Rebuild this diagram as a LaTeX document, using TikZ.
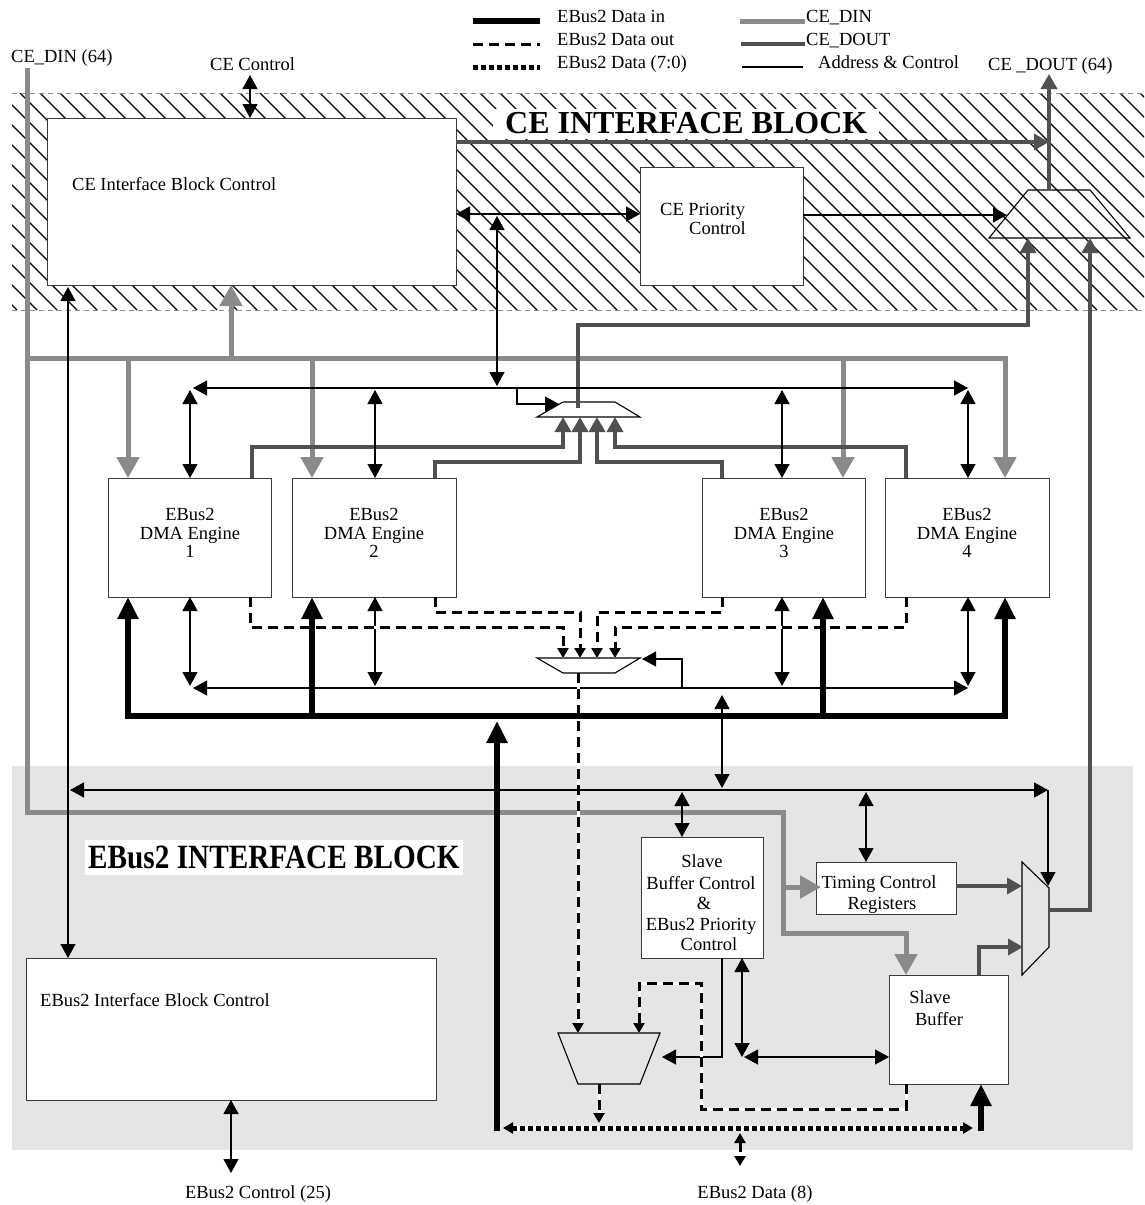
\documentclass[tikz,border=0pt]{standalone}
\usepackage{fontspec}
\usepackage{graphicx}
\setmainfont{Liberation Serif}
\usetikzlibrary{arrows.meta}
\definecolor{dingray}{HTML}{8A8A8A}
\definecolor{doutgray}{HTML}{505050}
\definecolor{blockbg}{HTML}{E5E5E5}
\definecolor{edgegray}{HTML}{3A3A3A}
\definecolor{hatchedge}{HTML}{8C8C8C}

\tikzset{
  adrtip/.tip={Triangle[width=15pt,length=14pt]},
  dintip/.tip={Triangle[width=22pt,length=21pt]},
  douttip/.tip={Triangle[width=16pt,length=15pt]},
  bigtip/.tip={Triangle[width=20pt,length=22pt]},
  smalltip/.tip={Triangle[width=11pt,length=10pt]},
  addr/.style={draw=black, line width=1.2pt},
  din/.style={draw=dingray, line width=5pt, line join=miter},
  dout/.style={draw=doutgray, line width=3.5pt, line join=miter},
  datain/.style={draw=black, line width=5.5pt, line join=miter},
  dataout/.style={draw=black, line width=3pt, dash pattern=on 10pt off 6pt,
    preaction={draw=white, solid, line width=3pt}},
  databyte/.style={draw=black, line width=5pt, dash pattern=on 5pt off 3pt,
    preaction={draw=white, solid, line width=5pt}},
  box/.style={draw=edgegray, line width=1.2pt, fill=white, inner sep=0pt, anchor=north west},
  mux/.style={draw=black, line width=1.1pt, line join=miter},
  lbl/.style={inner sep=0pt},
  blocktitle/.style={fill=white, inner ysep=0pt, font=\fontsize{32}{34}\selectfont\bfseries},
  bordergray/.style={draw=hatchedge, line width=0.9pt, dash pattern=on 5pt off 4pt},
}

\begin{document}
\begin{tikzpicture}[x=1pt, y=-1pt, font=\fontsize{18.5}{20}\selectfont]
\useasboundingbox (0,0) rectangle (1144,1205);

% ---------- block backgrounds ----------
\fill[blockbg] (12,766) rectangle (1133,1150);
\begin{scope}
  \clip (12,93) rectangle (1144,310);
  \foreach \k in {0,...,70}
    \draw[line width=1.3pt] ({\k*20-220},93) -- ++(217,217);
\end{scope}
\draw[bordergray] (12,93) -- (1144,93);
\draw[bordergray] (12,310) -- (1144,310);

\node[blocktitle, anchor=base west, text height=24pt, text depth=6pt, inner xsep=12pt]
  (cetitle) at (493,133) {CE INTERFACE BLOCK};
\node[blocktitle, anchor=base west, text height=28pt, text depth=7pt, inner xsep=3pt,
  font=\fontsize{34}{36}\selectfont\bfseries]
  (ebtitle) at (85,868) {\scalebox{0.86}[1]{EBus2 INTERFACE BLOCK}};

% ---------- legend ----------
\coordinate (lgA1) at (473,21); \coordinate (lgA2) at (540,21);
\coordinate (lgB1) at (473,44); \coordinate (lgB2) at (540,44);
\coordinate (lgC1) at (473,67); \coordinate (lgC2) at (540,67);
\coordinate (lgD1) at (740,21); \coordinate (lgD2) at (805,21);
\coordinate (lgE1) at (741,44); \coordinate (lgE2) at (805,44);
\coordinate (lgF1) at (742,67); \coordinate (lgF2) at (803,67);
\draw[datain] (lgA1) -- (lgA2);
\draw[dataout] (lgB1) -- (lgB2);
\draw[databyte] (lgC1) -- (lgC2);
\draw[din] (lgD1) -- (lgD2);
\draw[dout] (lgE1) -- (lgE2);
\draw[addr] (lgF1) -- (lgF2);
\node[lbl, anchor=base west] (lgAt) at (557,22) {EBus2 Data in};
\node[lbl, anchor=base west] (lgBt) at (557,45) {EBus2 Data out};
\node[lbl, anchor=base west] (lgCt) at (557,68) {EBus2 Data (7:0)};
\node[lbl, anchor=base west] (lgDt) at (806,22) {CE\_DIN};
\node[lbl, anchor=base west] (lgEt) at (806,45) {CE\_DOUT};
\node[lbl, anchor=base west] (lgFt) at (818,68) {Address \& Control};

% ---------- outside labels ----------
\node[lbl, anchor=base west] (cedinlbl) at (11,62) {CE\_DIN (64)};
\node[lbl, anchor=base west] (cectllbl) at (210,70) {CE Control};
\node[lbl, anchor=base west] (cedoutlbl) at (988,70) {CE \_DOUT (64)};
\node[lbl, anchor=base] (ebctllbl) at (258,1198) {EBus2 Control (25)};
\node[lbl, anchor=base] (ebdatalbl) at (755,1198) {EBus2 Data (8)};

% ---------- boxes ----------
\node[box, minimum width=409pt, minimum height=167pt] (ceibc) at (47,118) {};
\node[box, minimum width=163pt, minimum height=118pt] (cepc) at (640,167) {};
\node[box, minimum width=163pt, minimum height=119pt] (dma1) at (108,478) {};
\node[box, minimum width=164pt, minimum height=119pt] (dma2) at (292,478) {};
\node[box, minimum width=163pt, minimum height=119pt] (dma3) at (702,478) {};
\node[box, minimum width=164pt, minimum height=119pt] (dma4) at (885,478) {};
\node[box, minimum width=122pt, minimum height=121pt] (sbc) at (641,837) {};
\node[box, minimum width=140pt, minimum height=52pt] (tcr) at (816,862) {};
\node[box, minimum width=119pt, minimum height=109pt] (sbuf) at (889,975) {};
\node[box, minimum width=410pt, minimum height=142pt] (ebibc) at (26,958) {};

\node[lbl, anchor=base west] (ceibct) at (72,190) {CE Interface Block Control};
\node[lbl, anchor=base west] (cepct1) at (660,215) {CE Priority};
\node[lbl, anchor=base west] (cepct2) at (689,234) {Control};
\foreach \n/\x/\d in {1/190/1, 2/374/2, 3/784/3, 4/967/4} {
  \node[lbl, anchor=base] (dmaA\n) at (\x,520) {EBus2};
  \node[lbl, anchor=base] (dmaB\n) at (\x,539) {DMA Engine};
  \node[lbl, anchor=base] (dmaC\n) at (\x,557) {\d};
}
\node[lbl, anchor=base] (sbct1) at (702,867) {Slave};
\node[lbl, anchor=base] (sbct2) at (701,889) {Buffer Control};
\node[lbl, anchor=base] (sbct3) at (704,909) {\&};
\node[lbl, anchor=base] (sbct4) at (701,930) {EBus2 Priority};
\node[lbl, anchor=base] (sbct5) at (709,950) {Control};
\node[lbl, anchor=base] (tcrt1) at (879,888) {Timing Control};
\node[lbl, anchor=base] (tcrt2) at (882,909) {Registers};
\node[lbl, anchor=base] (sbuft1) at (930,1003) {Slave};
\node[lbl, anchor=base] (sbuft2) at (939,1025) {Buffer};
\node[lbl, anchor=base west] (ebibct) at (40,1006) {EBus2 Interface Block Control};

% ---------- multiplexers ----------
\draw[mux] (1028,190) -- (1090,190) -- (1130,238) -- (989,238) -- cycle;
\draw[mux] (563,402) -- (615,402) -- (640,417) -- (537,417) -- cycle;
\draw[mux] (537,658) -- (640,658) -- (615,673) -- (563,673) -- cycle;
\draw[mux] (558,1033) -- (660,1033) -- (640,1084) -- (578,1084) -- cycle;
\draw[mux] (1022,862) -- (1049,888) -- (1049,947) -- (1022,975) -- cycle;

% ---------- CE_DIN ----------
\coordinate (cedinTop) at (27,68);
\coordinate (dinBusL) at (27,358);
\coordinate (dinTurn) at (27,812);
\coordinate (dinSbA) at (783,812);
\coordinate (dinTcr) at (783,887);
\coordinate (dinSbB) at (783,933);
\coordinate (dinSbC) at (906,933);
\coordinate (sbufIn) at (906,975);
\coordinate (tcrIn) at (821,887);
\coordinate (dinBusR) at (1005,358);
\coordinate (dma4In) at (1005,478);
\coordinate (dinB1) at (128,358);  \coordinate (dma1In) at (128,478);
\coordinate (dinB2) at (312,358);  \coordinate (dma2In) at (312,478);
\coordinate (dinB3) at (843,358);  \coordinate (dma3In) at (843,478);
\coordinate (dinCe) at (231,358);  \coordinate (ceibcIn) at (231,285);
\draw[din,-{dintip}] (cedinTop) -- (dinTurn) -- (dinSbA) -- (dinSbB) -- (dinSbC) -- (sbufIn);
\draw[din,-{dintip}] (dinTcr) -- (tcrIn);
\draw[din,-{dintip}] (dinBusL) -- (dinBusR) -- (dma4In);
\draw[din,-{dintip}] (dinB1) -- (dma1In);
\draw[din,-{dintip}] (dinB2) -- (dma2In);
\draw[din,-{dintip}] (dinB3) -- (dma3In);
\draw[din,-{dintip}] (dinCe) -- (ceibcIn);

% ---------- CE_DOUT ----------
\coordinate (ceibcOut) at (456,142);
\coordinate (doutJoin) at (1049,142);
\coordinate (tmuxOut) at (1049,190);
\coordinate (cedoutTop) at (1049,74);
\coordinate (mmuxOut) at (578,408);
\coordinate (mmuxUp) at (578,325);
\coordinate (tmuxInAr) at (1028,325);
\coordinate (tmuxInA) at (1028,238);
\coordinate (rmuxOut) at (1049,910);
\coordinate (rmuxRt) at (1090,910);
\coordinate (tmuxInB) at (1090,238);
\coordinate (e1o) at (252,478); \coordinate (e1a) at (252,447); \coordinate (e1b) at (563,447); \coordinate (mIn1) at (563,417);
\coordinate (e2o) at (435,478); \coordinate (e2a) at (435,462); \coordinate (e2b) at (580,462); \coordinate (mIn2) at (580,417);
\coordinate (e3o) at (722,478); \coordinate (e3a) at (722,462); \coordinate (e3b) at (597,462); \coordinate (mIn3) at (597,417);
\coordinate (e4o) at (906,478); \coordinate (e4a) at (906,447); \coordinate (e4b) at (615,447); \coordinate (mIn4) at (615,417);
\coordinate (tcrOut) at (956,886); \coordinate (rmuxInA) at (1022,886);
\coordinate (sbufOut) at (979,975); \coordinate (sbufUp) at (979,947); \coordinate (rmuxInB) at (1023,947);
\draw[dout,-{douttip}] (ceibcOut) -- (doutJoin);
\draw[dout,-{douttip}] (tmuxOut) -- (cedoutTop);
\draw[dout,-{douttip}] (mmuxOut) -- (mmuxUp) -- (tmuxInAr) -- (tmuxInA);
\draw[dout,-{douttip}] (rmuxOut) -- (rmuxRt) -- (tmuxInB);
\draw[dout,-{douttip}] (e1o) -- (e1a) -- (e1b) -- (mIn1);
\draw[dout,-{douttip}] (e2o) -- (e2a) -- (e2b) -- (mIn2);
\draw[dout,-{douttip}] (e3o) -- (e3a) -- (e3b) -- (mIn3);
\draw[dout,-{douttip}] (e4o) -- (e4a) -- (e4b) -- (mIn4);
\draw[dout,-{douttip}] (tcrOut) -- (rmuxInA);
\draw[dout,-{douttip}] (sbufOut) -- (sbufUp) -- (rmuxInB);

% ---------- address & control ----------
\coordinate (cectlTop) at (250,75); \coordinate (ceibcCtl) at (250,118);
\coordinate (ceibcPr) at (456,214); \coordinate (cepcW) at (640,214);
\coordinate (prTop) at (497,216); \coordinate (prBot) at (497,386);
\coordinate (cepcE) at (803,215); \coordinate (tmuxSel) at (1007,215);
\coordinate (ubusL) at (193,388); \coordinate (ubusR) at (968,388);
\coordinate (msel0) at (517,388); \coordinate (msel1) at (517,404); \coordinate (mselIn) at (559,404);
\coordinate (lbusL) at (193,688); \coordinate (lbusR) at (968,688);
\coordinate (lsel0) at (682,688); \coordinate (lsel1) at (682,659); \coordinate (lselIn) at (642,659);
\coordinate (linkTop) at (722,695); \coordinate (linkBot) at (722,788);
\coordinate (ebusL) at (70,790); \coordinate (ebusR) at (1048,790); \coordinate (rmuxSel) at (1048,886);
\coordinate (ceibcLow) at (68,287); \coordinate (ebibcTop) at (68,958);
\coordinate (sbcT0) at (682,792); \coordinate (sbcT1) at (682,837);
\coordinate (tcrT0) at (866,792); \coordinate (tcrT1) at (866,862);
\coordinate (sbcB0) at (722,958); \coordinate (sbcB1) at (722,1057); \coordinate (lmuxSel) at (662,1057);
\coordinate (sbcC0) at (742,958); \coordinate (sbcC1) at (742,1057);
\coordinate (sbufL0) at (744,1057); \coordinate (sbufL1) at (889,1057);
\coordinate (ebctl0) at (231,1100); \coordinate (ebctl1) at (231,1173);
\draw[addr,{adrtip}-{adrtip}] (cectlTop) -- (ceibcCtl);
\draw[addr,{adrtip}-{adrtip}] (ceibcPr) -- (cepcW);
\draw[addr,{adrtip}-{adrtip}] (prTop) -- (prBot);
\draw[addr,-{adrtip}] (cepcE) -- (tmuxSel);
\draw[addr,{adrtip}-{adrtip}] (ubusL) -- (ubusR);
\draw[addr,-{adrtip}] (msel0) -- (msel1) -- (mselIn);
\draw[addr,{adrtip}-{adrtip}] (lbusL) -- (lbusR);
\draw[addr,-{adrtip}] (lsel0) -- (lsel1) -- (lselIn);
\foreach \x/\n in {190/1, 375/2, 782/3, 968/4} {
  \coordinate (uv\n a) at (\x,390); \coordinate (uv\n b) at (\x,478);
  \coordinate (lv\n a) at (\x,597); \coordinate (lv\n b) at (\x,686);
  \draw[addr,{adrtip}-{adrtip}] (uv\n a) -- (uv\n b);
  \draw[addr,{adrtip}-{adrtip}] (lv\n a) -- (lv\n b);
}
\draw[addr,{adrtip}-{adrtip}] (linkTop) -- (linkBot);
\draw[addr,{adrtip}-{adrtip}] (ebusL) -- (ebusR);
\draw[addr,-{adrtip}] (ebusR) -- (rmuxSel);
\draw[addr,{adrtip}-{adrtip}] (ceibcLow) -- (ebibcTop);
\draw[addr,{adrtip}-{adrtip}] (sbcT0) -- (sbcT1);
\draw[addr,{adrtip}-{adrtip}] (tcrT0) -- (tcrT1);
\draw[addr,-{adrtip}] (sbcB0) -- (sbcB1) -- (lmuxSel);
\draw[addr,{adrtip}-{adrtip}] (sbcC0) -- (sbcC1);
\draw[addr,{adrtip}-{adrtip}] (sbufL0) -- (sbufL1);
\draw[addr,{adrtip}-{adrtip}] (ebctl0) -- (ebctl1);

% ---------- EBus2 data out ----------
\coordinate (o1) at (250,597); \coordinate (o1a) at (250,627); \coordinate (o1b) at (563,627); \coordinate (q1) at (563,658);
\coordinate (o2) at (435,597); \coordinate (o2a) at (435,612); \coordinate (o2b) at (580,612); \coordinate (q2) at (580,658);
\coordinate (o3) at (722,597); \coordinate (o3a) at (722,612); \coordinate (o3b) at (597,612); \coordinate (q3) at (597,658);
\coordinate (o4) at (906,597); \coordinate (o4a) at (906,627); \coordinate (o4b) at (615,627); \coordinate (q4) at (615,658);
\coordinate (qmuxOut) at (578,673); \coordinate (lmuxIn1) at (578,1033);
\coordinate (sbufD) at (906,1084); \coordinate (sbufDa) at (906,1109); \coordinate (sbufDb) at (701,1109);
\coordinate (sbufDc) at (701,983); \coordinate (sbufDd) at (639,983); \coordinate (lmuxIn2) at (639,1033);
\coordinate (lmuxOut) at (599,1084); \coordinate (byteIn) at (599,1123);
\coordinate (ext0) at (740,1133); \coordinate (ext1) at (740,1166);
\draw[dataout,-{smalltip}] (o1) -- (o1a) -- (o1b) -- (q1);
\draw[dataout,-{smalltip}] (o2) -- (o2a) -- (o2b) -- (q2);
\draw[dataout,-{smalltip}] (o3) -- (o3a) -- (o3b) -- (q3);
\draw[dataout,-{smalltip}] (o4) -- (o4a) -- (o4b) -- (q4);
\draw[dataout,-{smalltip}] (qmuxOut) -- (lmuxIn1);
\draw[dataout,-{smalltip}] (sbufD) -- (sbufDa) -- (sbufDb) -- (sbufDc) -- (sbufDd) -- (lmuxIn2);
\draw[dataout,-{smalltip}] (lmuxOut) -- (byteIn);
\draw[dataout,{smalltip}-{smalltip}] (ext0) -- (ext1);

% ---------- EBus2 data (7:0) ----------
\coordinate (byteL) at (503,1128); \coordinate (byteR) at (973,1128);
\draw[databyte,{smalltip}-{smalltip}] (byteL) -- (byteR);

% ---------- EBus2 data in ----------
\coordinate (di1) at (128,597); \coordinate (dbus1) at (128,716);
\coordinate (dbus4) at (1005,716); \coordinate (di4) at (1005,597);
\coordinate (dbus2) at (312,716); \coordinate (di2) at (312,597);
\coordinate (dbus3) at (823,716); \coordinate (di3) at (823,597);
\coordinate (dinSrc) at (497,1131); \coordinate (dinUp) at (497,721);
\coordinate (sbDin0) at (981,1131); \coordinate (sbDin1) at (981,1084);
\draw[datain,{bigtip}-{bigtip}] (di1) -- (dbus1) -- (dbus4) -- (di4);
\draw[datain,-{bigtip}] (dbus2) -- (di2);
\draw[datain,-{bigtip}] (dbus3) -- (di3);
\draw[datain,-{bigtip}] (dinSrc) -- (dinUp);
\draw[datain,-{bigtip}] (sbDin0) -- (sbDin1);
\end{tikzpicture}
\end{document}
